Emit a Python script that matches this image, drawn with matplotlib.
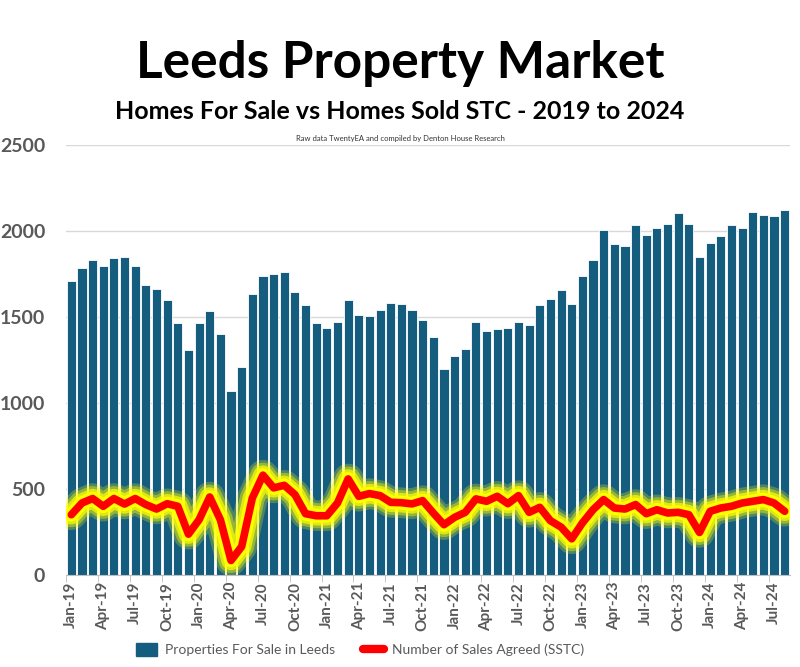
import numpy as np
import matplotlib
matplotlib.use("Agg")
import matplotlib.pyplot as plt
import matplotlib.patheffects as pe
from matplotlib.lines import Line2D
from matplotlib.patches import Patch

plt.rcParams['font.family'] = ['Lato', 'DejaVu Sans']

# monthly data, Jan-19 to Aug-24
months = ['Jan', 'Feb', 'Mar', 'Apr', 'May', 'Jun',
          'Jul', 'Aug', 'Sep', 'Oct', 'Nov', 'Dec']
labels = [f"{m}-{y}" for y in range(19, 25) for m in months][:68]

for_sale = [1711, 1786, 1829, 1798, 1843, 1849, 1798, 1683, 1664, 1600, 1462, 1309,
            1462, 1532, 1400, 1068, 1208, 1633, 1740, 1746, 1759, 1645, 1571, 1462,
            1437, 1468, 1600, 1513, 1507, 1538, 1583, 1577, 1538, 1481, 1381, 1196,
            1272, 1311, 1468, 1417, 1431, 1437, 1468, 1450, 1571, 1602, 1658, 1577,
            1736, 1829, 2002, 1924, 1911, 2033, 1977, 2014, 2039, 2103, 2039, 1845,
            1930, 1969, 2033, 2014, 2109, 2089, 2083, 2122]

sstc = [350, 418, 444, 399, 444, 412, 444, 409, 383, 414, 399, 237,
        321, 453, 321, 84, 165, 447, 580, 506, 521, 467, 356, 344,
        344, 418, 558, 457, 473, 461, 422, 420, 413, 432, 360, 292,
        335, 364, 442, 428, 457, 414, 461, 364, 393, 315, 278, 210,
        302, 379, 438, 389, 383, 409, 356, 379, 360, 364, 350, 247,
        370, 389, 399, 418, 428, 438, 418, 370]

bar_color = '#155d7f'
grey = '#595959'

fig = plt.figure(figsize=(8, 6.67), dpi=100)
ax = fig.add_axes([0.0825, 0.138, 0.905, 0.645])

x = np.arange(len(for_sale))
ax.bar(x, for_sale, width=0.86, color=bar_color, edgecolor='white',
       linewidth=0.6, zorder=2)

# glowing red line
glow = [pe.Stroke(linewidth=22, foreground='#ffff00', alpha=0.25),
        pe.Stroke(linewidth=18, foreground='#ffff00', alpha=0.4),
        pe.Stroke(linewidth=14, foreground='#ffff00', alpha=0.7),
        pe.Stroke(linewidth=10, foreground='#ffff00', alpha=1.0),
        pe.Normal()]
ax.plot(x, sstc, color='#ff0000', linewidth=5.5, solid_joinstyle='round',
        solid_capstyle='round', zorder=3, path_effects=glow)

ax.set_xlim(-0.5, len(for_sale) - 0.5)
ax.set_ylim(0, 2500)
ax.set_yticks(range(0, 2501, 500))
ax.grid(axis='y', color='#d9d9d9', linewidth=1, zorder=0)
ax.set_axisbelow(True)

for s in ['top', 'right', 'left']:
    ax.spines[s].set_visible(False)
ax.spines['bottom'].set_color('#bfbfbf')

ax.set_xticks(x[::3])
ax.set_xticklabels(labels[::3], rotation=90, fontsize=11,
                   fontweight='bold', color=grey)
ax.set_xticks(x[::3] - 0.5, minor=True)
ax.tick_params(axis='x', which='major', length=0, pad=5)
ax.tick_params(axis='x', which='minor', length=5, color='#bfbfbf')
ax.tick_params(axis='y', length=0, labelsize=14, labelcolor=grey, pad=15)
for t in ax.get_yticklabels():
    t.set_fontweight('bold')

fig.text(0.5, 0.905, 'Leeds Property Market', ha='center', va='center',
         fontsize=37, fontweight='bold', color='black')
fig.text(0.5, 0.833, 'Homes For Sale vs Homes Sold STC - 2019 to 2024',
         ha='center', va='center', fontsize=18, fontweight='bold', color='black')
fig.text(0.5, 0.793, 'Raw data TwentyEA and compiled by Denton House Research',
         ha='center', va='center', fontsize=5.5, color='#333333')

handles = [Patch(color=bar_color),
           Line2D([0], [0], color='#ff0000', linewidth=6, solid_capstyle='round')]
fig.legend(handles, ['Properties For Sale in Leeds', 'Number of Sales Agreed (SSTC)'],
           loc='center', bbox_to_anchor=(0.45, 0.026), ncol=2, frameon=False,
           fontsize=10, labelcolor=grey, handlelength=1.5, handleheight=1.0,
           columnspacing=2.0, handletextpad=0.6)

fig.savefig('out.png', dpi=100)
